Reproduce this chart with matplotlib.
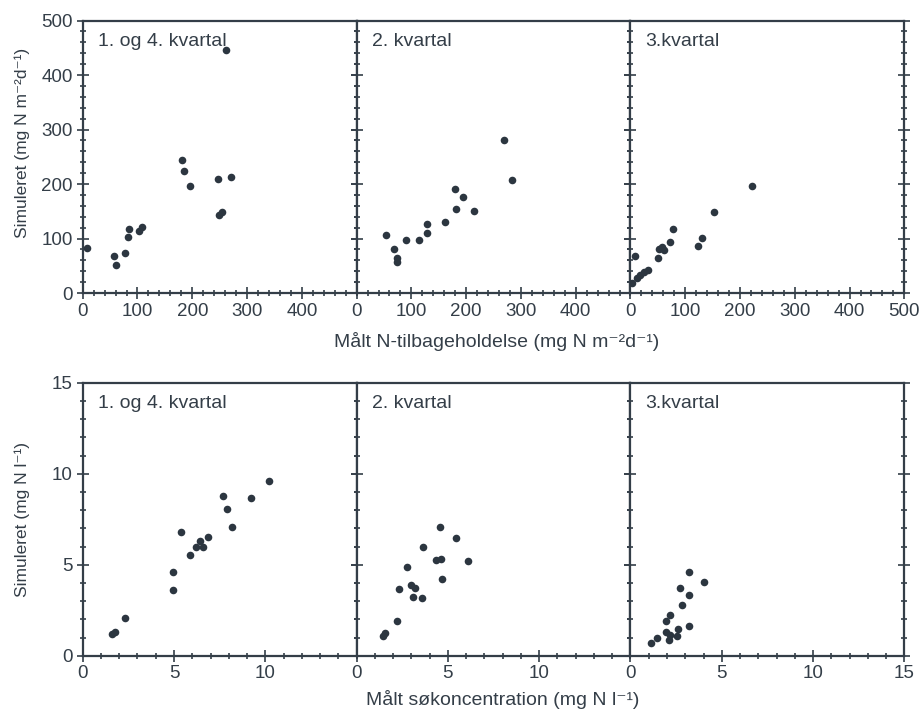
import matplotlib.pyplot as plt
from matplotlib.ticker import MultipleLocator

plt.rcParams['font.family'] = ['Liberation Sans', 'DejaVu Sans']

ink = '#343e48'
dot = '#2c3640'

quarters = ['1. og 4. kvartal', '2. kvartal', '3.kvartal']

# N-retention, measured vs simulated (mg N m-2 d-1)
ret_meas_q14 = [7, 58, 60, 78, 82, 84, 102, 108, 181, 185, 195, 247, 270, 248, 255, 261]
ret_sim_q14 = [82, 68, 51, 74, 102, 117, 114, 121, 244, 223, 196, 209, 212, 143, 149, 445]
ret_meas_q2 = [54, 68, 74, 74, 91, 114, 129, 129, 161, 180, 182, 194, 214, 270, 284]
ret_sim_q2 = [107, 80, 64, 57, 97, 97, 127, 111, 130, 191, 155, 176, 151, 281, 207]
ret_meas_q3 = [3, 8, 12, 17, 25, 32, 50, 52, 57, 61, 72, 78, 123, 130, 152, 221]
ret_sim_q3 = [19, 67, 27, 33, 39, 43, 65, 80, 84, 78, 93, 117, 86, 101, 149, 197]

# lake concentration, measured vs simulated (mg N l-1)
conc_meas_q14 = [1.6, 1.75, 2.3, 4.95, 4.95, 5.4, 5.9, 6.2, 6.4, 6.6, 6.85, 7.7, 7.9, 8.15, 9.2, 10.2]
conc_sim_q14 = [1.2, 1.3, 2.1, 3.6, 4.6, 6.8, 5.55, 5.95, 6.3, 5.95, 6.5, 8.8, 8.05, 7.1, 8.65, 9.6]
conc_meas_q2 = [1.45, 1.55, 2.2, 2.3, 2.75, 3.0, 3.2, 3.1, 3.6, 3.65, 4.35, 4.65, 4.55, 4.7, 5.45, 6.1]
conc_sim_q2 = [1.1, 1.25, 1.9, 3.65, 4.9, 3.9, 3.7, 3.2, 3.15, 6.0, 5.25, 5.3, 7.05, 4.2, 6.45, 5.2]
conc_meas_q3 = [1.1, 1.45, 2.1, 1.95, 2.15, 2.55, 2.6, 1.95, 2.15, 3.2, 2.8, 3.2, 2.7, 3.2, 4.0]
conc_sim_q3 = [0.7, 0.95, 0.85, 1.3, 1.15, 1.1, 1.45, 1.9, 2.25, 1.65, 2.8, 3.35, 3.7, 4.6, 4.05]

ret_x = [ret_meas_q14, ret_meas_q2, ret_meas_q3]
ret_y = [ret_sim_q14, ret_sim_q2, ret_sim_q3]
conc_x = [conc_meas_q14, conc_meas_q2, conc_meas_q3]
conc_y = [conc_sim_q14, conc_sim_q2, conc_sim_q3]

fig = plt.figure(figsize=(9.2, 7.15), dpi=100)
left, right = 0.0899, 0.983
w = (right - left) / 3
top_row = [fig.add_axes([left + i * w, 0.5902, w, 0.3811]) for i in range(3)]
bot_row = [fig.add_axes([left + i * w, 0.0829, w, 0.3818]) for i in range(3)]


def style(ax, lim, major, minor, first, last):
    ax.set_xlim(0, lim)
    ax.set_ylim(0, lim)
    ticks = [t * major for t in range(int(lim / major) + 1)]
    ax.set_xticks(ticks if last else ticks[:-1])
    ax.set_yticks(ticks)
    ax.xaxis.set_minor_locator(MultipleLocator(minor))
    ax.yaxis.set_minor_locator(MultipleLocator(minor))
    ax.tick_params(which='both', direction='inout', right=True, colors=ink,
                   labelsize=13.5, width=1.2, pad=3)
    ax.tick_params(which='major', length=8)
    ax.tick_params(which='minor', length=5)
    if not first:
        ax.tick_params(labelleft=False)
    for s in ax.spines.values():
        s.set_linewidth(1.6)
        s.set_color(ink)


for i, ax in enumerate(top_row):
    ax.scatter(ret_x[i], ret_y[i], s=30, color=dot, linewidths=0, zorder=3)
    style(ax, 500, 100, 20, i == 0, i == 2)
    ax.text(0.055, 0.955, quarters[i], transform=ax.transAxes, ha='left', va='top',
            fontsize=14, color=ink)

for i, ax in enumerate(bot_row):
    ax.scatter(conc_x[i], conc_y[i], s=30, color=dot, linewidths=0, zorder=3)
    style(ax, 15, 5, 1, i == 0, i == 2)
    ax.text(0.055, 0.955, quarters[i], transform=ax.transAxes, ha='left', va='top',
            fontsize=14, color=ink)

fig.text(0.540, 0.522, 'Målt N-tilbageholdelse (mg N m⁻²d⁻¹)', ha='center', va='center',
         fontsize=14, color=ink)
fig.text(0.546, 0.022, 'Målt søkoncentration (mg N l⁻¹)', ha='center', va='center',
         fontsize=14, color=ink)
fig.text(0.024, 0.80, 'Simuleret (mg N m⁻²d⁻¹)', rotation=90, ha='center', va='center',
         fontsize=12.5, color=ink)
fig.text(0.024, 0.273, 'Simuleret (mg N l⁻¹)', rotation=90, ha='center', va='center',
         fontsize=12.5, color=ink)

fig.savefig('out.png', dpi=100)
